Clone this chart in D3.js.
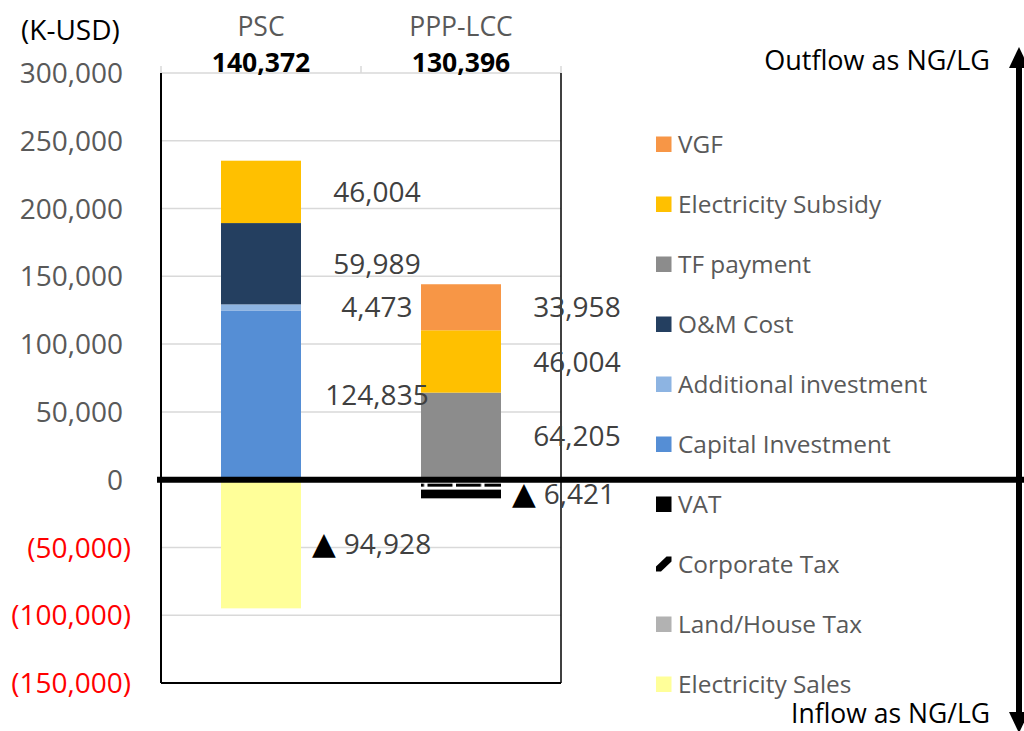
<!DOCTYPE html>
<html>
<head>
<meta charset="utf-8">
<script src="https://cdn.jsdelivr.net/npm/d3@7"></script>
<style>
  html, body { margin: 0; padding: 0; background: #fff; }
  svg text { font-family: "Open Sans", "DejaVu Sans", sans-serif; }
</style>
</head>
<body>
<svg id="chart" width="1024" height="731"></svg>
<script>
// ---- data (K-USD) ----
const categories = ["PSC", "PPP-LCC"];
const netTotals = [140372, 130396];

// outflows (positive) and inflows (negative) per scheme
const capitalInvestment    = [124835, 0];
const additionalInvestment = [4473, 0];
const omCost               = [59989, 0];
const tfPayment            = [0, 64205];
const electricitySubsidy   = [46004, 46004];
const vgf                  = [0, 33958];
const electricitySales     = [-94928, 0];
const landHouseTax         = [0, -1650];
const corporateTax         = [0, -5700];
const vat                  = [0, -6421];

const yTicks = [-150000, -100000, -50000, 0, 50000, 100000, 150000, 200000, 250000, 300000];

// stacking order (diverging: positives up from 0, negatives down from 0)
const seriesDefs = [
  { key: "electricitySales",     name: "Electricity Sales",     values: electricitySales,     color: "#FFFF99" },
  { key: "landHouseTax",         name: "Land/House Tax",        values: landHouseTax,         color: "#B2B2B2" },
  { key: "corporateTax",         name: "Corporate Tax",         values: corporateTax,         color: "url(#corpTax)" },
  { key: "vat",                  name: "VAT",                   values: vat,                  color: "#000000" },
  { key: "capitalInvestment",    name: "Capital Investment",    values: capitalInvestment,    color: "#558ED5" },
  { key: "additionalInvestment", name: "Additional investment", values: additionalInvestment, color: "#8DB4E2" },
  { key: "omCost",               name: "O&M Cost",              values: omCost,               color: "#243F60" },
  { key: "tfPayment",            name: "TF payment",            values: tfPayment,            color: "#8C8C8C" },
  { key: "electricitySubsidy",   name: "Electricity Subsidy",   values: electricitySubsidy,   color: "#FFC000" },
  { key: "vgf",                  name: "VGF",                   values: vgf,                  color: "#F79646" }
];
const labelledKeys = ["capitalInvestment", "additionalInvestment", "omCost", "tfPayment",
                      "electricitySubsidy", "vgf", "electricitySales", "vat"];

const rows = categories.map((c, i) => {
  const r = { category: c };
  seriesDefs.forEach(s => r[s.key] = s.values[i]);
  return r;
});

// ---- layout ----
const svg = d3.select("#chart");
const plot = { left: 161, right: 561, top: 73, bottom: 683 };

const x = d3.scaleBand().domain(categories)
  .range([plot.left, plot.right]).paddingInner(0.6).paddingOuter(0.3);
const y = d3.scaleLinear().domain([-150000, 300000]).range([plot.bottom, plot.top]);

const defs = svg.append("defs");
const pat = defs.append("pattern").attr("id", "corpTax")
  .attr("patternUnits", "userSpaceOnUse")
  .attr("x", 0).attr("y", y(0)).attr("width", 28.5).attr("height", 20);
pat.append("rect").attr("width", 28.5).attr("height", 20).attr("fill", "#fff");
pat.append("rect").attr("x", 0).attr("y", 4).attr("width", 25).attr("height", 3).attr("fill", "#000");

// gridlines
svg.append("g").selectAll("line").data(yTicks).join("line")
  .attr("x1", plot.left).attr("x2", plot.right)
  .attr("y1", d => y(d)).attr("y2", d => y(d))
  .attr("stroke", "#D9D9D9").attr("stroke-width", 1.5);

// category tick marks at the top
const boundaries = [plot.left, ...categories.map(c => x(c) + x.bandwidth() / 2 + x.step() / 2)];
svg.append("g").selectAll("line").data(boundaries).join("line")
  .attr("x1", d => d).attr("x2", d => d)
  .attr("y1", plot.top - 7).attr("y2", plot.top)
  .attr("stroke", "#D9D9D9").attr("stroke-width", 1.5);

// stacked bars
const stacked = d3.stack().keys(seriesDefs.map(s => s.key))
  .offset(d3.stackOffsetDiverging)(rows);

const colorOf = Object.fromEntries(seriesDefs.map(s => [s.key, s.color]));

svg.append("g").selectAll("g").data(stacked).join("g")
  .attr("fill", d => colorOf[d.key])
  .selectAll("rect").data(d => d).join("rect")
  .attr("x", d => x(d.data.category))
  .attr("width", x.bandwidth())
  .attr("y", d => y(Math.max(d[0], d[1])))
  .attr("height", d => Math.abs(y(d[0]) - y(d[1])));

// frame
svg.append("line").attr("x1", plot.left).attr("x2", plot.left)
  .attr("y1", plot.top).attr("y2", plot.bottom).attr("stroke", "#000").attr("stroke-width", 2);
svg.append("line").attr("x1", plot.right).attr("x2", plot.right)
  .attr("y1", plot.top).attr("y2", plot.bottom).attr("stroke", "#000").attr("stroke-width", 1.5);
svg.append("line").attr("x1", plot.left).attr("x2", plot.right)
  .attr("y1", plot.bottom).attr("y2", plot.bottom).attr("stroke", "#000").attr("stroke-width", 2);

// zero line across to the right edge
svg.append("line").attr("x1", plot.left - 4).attr("x2", 1024)
  .attr("y1", y(0)).attr("y2", y(0)).attr("stroke", "#000").attr("stroke-width", 6);

// y axis labels
const fmt = d3.format(",");
svg.append("g").selectAll("text").data(yTicks).join("text")
  .attr("x", d => d < 0 ? 131 : 123)
  .attr("y", d => y(d))
  .attr("dy", "0.36em")
  .attr("text-anchor", "end")
  .attr("font-size", 28)
  .attr("fill", d => d < 0 ? "#FF0000" : "#595959")
  .text(d => d < 0 ? "(" + fmt(-d) + ")" : fmt(d));

svg.append("text").attr("x", 21).attr("y", 40)
  .attr("font-size", 28).attr("fill", "#000").text("(K-USD)");

// category headers: name on the first line, net total (bold) below
const headers = svg.append("g").selectAll("text").data(categories).join("text")
  .attr("text-anchor", "middle");
headers.append("tspan")
  .attr("x", c => x(c) + x.bandwidth() / 2).attr("y", 35.5)
  .attr("font-size", 26.5).attr("fill", "#595959")
  .text(c => c);
headers.append("tspan")
  .attr("x", c => x(c) + x.bandwidth() / 2).attr("y", 72)
  .attr("font-size", 26.5).attr("font-weight", "bold").attr("fill", "#000")
  .text((c, i) => fmt(netTotals[i]));

// segment value labels to the right of each bar
const labelData = [];
stacked.forEach(s => {
  if (!labelledKeys.includes(s.key)) return;
  s.forEach(d => {
    const v = d.data[s.key];
    if (!v) return;
    labelData.push({ category: d.data.category, value: v, mid: (d[0] + d[1]) / 2 });
  });
});
const barRight = c => x(c) + x.bandwidth();
svg.append("g").selectAll("text").data(labelData).join("text")
  .attr("x", d => d.value < 0 ? barRight(d.category) + 11 : barRight(d.category) + 76)
  .attr("y", d => y(d.mid))
  .attr("dy", "0.36em")
  .attr("text-anchor", d => d.value < 0 ? "start" : "middle")
  .attr("font-size", 28)
  .attr("fill", "#404040")
  .each(function (d) {
    const t = d3.select(this);
    if (d.value < 0) {
      t.append("tspan").attr("fill", "#000").attr("font-size", 31).text("▲");
      t.append("tspan").attr("dx", 8).text(fmt(-d.value));
    } else {
      t.text(fmt(d.value));
    }
  });

// legend
const legendOrder = seriesDefs.slice().reverse();
const lg = svg.append("g").selectAll("g").data(legendOrder).join("g")
  .attr("transform", (d, i) => `translate(656, ${144 + i * 60})`);
lg.each(function (d) {
  const g = d3.select(this);
  if (d.key === "corporateTax") {
    g.append("path").attr("d", "M0,7.5 L5,7.5 L15.5,-2.5 L15.5,-7.5 L10.5,-7.5 L0,2.5 Z").attr("fill", "#000");
  } else {
    g.append("rect").attr("x", 0).attr("y", -7.5).attr("width", 15.5).attr("height", 15.5)
      .attr("fill", d.color);
  }
});
lg.append("text").attr("x", 22).attr("y", 0).attr("dy", "0.36em")
  .attr("font-size", 24.4).attr("fill", "#595959").text(d => d.name);

// flow direction arrow
const ax = 1019;
svg.append("line").attr("x1", ax).attr("x2", ax).attr("y1", 66).attr("y2", 714)
  .attr("stroke", "#000").attr("stroke-width", 6);
svg.append("path").attr("d", `M${ax},47 L${ax - 10},68 L${ax + 10},68 Z`).attr("fill", "#000");
svg.append("path").attr("d", `M${ax},733 L${ax - 10},712 L${ax + 10},712 Z`).attr("fill", "#000");

svg.append("text").attr("x", 990).attr("y", 70).attr("text-anchor", "end")
  .attr("font-size", 27).attr("fill", "#000").text("Outflow as NG/LG");
svg.append("text").attr("x", 990).attr("y", 723).attr("text-anchor", "end")
  .attr("font-size", 26.5).attr("fill", "#000").text("Inflow as NG/LG");
</script>
</body>
</html>
